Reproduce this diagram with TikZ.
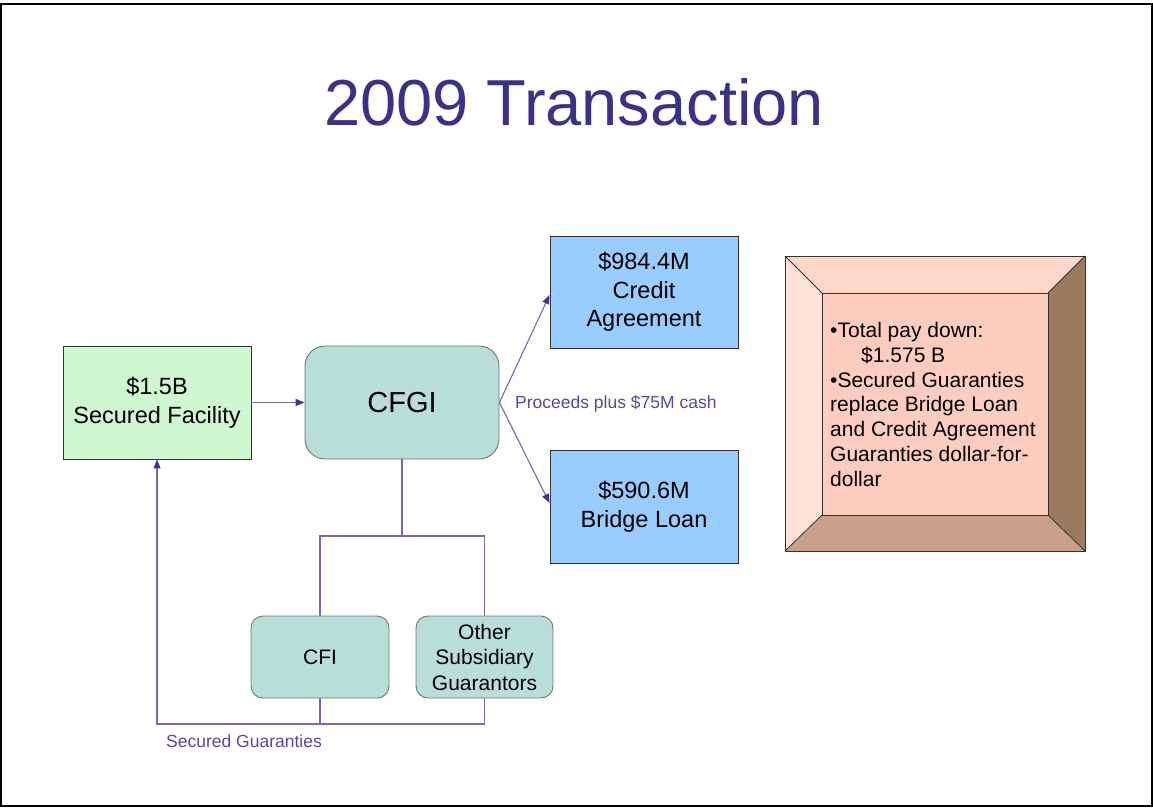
\documentclass[tikz,border=0pt]{standalone}
\usepackage{fontspec}
\setmainfont{Liberation Sans}
\usetikzlibrary{arrows.meta,calc}
\definecolor{titlecol}{RGB}{58,50,134}
\definecolor{linecol}{RGB}{118,104,178}
\definecolor{tipcol}{RGB}{64,52,140}
\definecolor{greenfill}{RGB}{208,248,208}
\definecolor{tealfill}{RGB}{184,222,216}
\definecolor{bluefill}{RGB}{153,204,255}
\definecolor{bvtop}{RGB}{255,214,202}
\definecolor{bvleft}{RGB}{255,224,216}
\definecolor{bvright}{RGB}{155,122,96}
\definecolor{bvbottom}{RGB}{201,160,140}
\definecolor{bvcenter}{RGB}{255,204,192}
\definecolor{labelcol}{RGB}{86,72,160}
\tikzset{
  sqbox/.style={draw=black!80, line width=0.9pt, rectangle, inner sep=0pt, align=center,
    font=\fontsize{23.5}{28.5}\selectfont},
  rndbox/.style={draw=black!55, line width=0.9pt, rectangle, fill=tealfill, inner sep=0pt, align=center},
  conn/.style={draw=linecol, line width=1.1pt},
  arr/.style={conn, -{Triangle[length=9pt,width=7pt,fill=tipcol,color=tipcol]}},
  lbl/.style={text=labelcol, font=\fontsize{17.5}{20}\selectfont, inner sep=0pt}
}
\begin{document}
\begin{tikzpicture}[x=1pt,y=-1pt]
\useasboundingbox (0,0) rectangle (1153,808);
\draw[line width=2pt, black] (1,4) rectangle (1152,806);
% title
\node[text=titlecol, font=\fontsize{65}{70}\selectfont, inner sep=0pt] (title) at (574,102) {2009 Transaction};
% nodes
\node[sqbox, fill=greenfill, minimum width=188pt, minimum height=113pt] (sf) at (157,402.5) {\raisebox{-3pt}{\$1.5B}\\\raisebox{-3pt}{Secured Facility}};
\node[rndbox, rounded corners=20pt, minimum width=194pt, minimum height=113pt, font=\fontsize{29}{32}\selectfont] (cfgi) at (402,402.5) {CFGI};
\node[sqbox, fill=bluefill, minimum width=188pt, minimum height=112pt] (credit) at (644,292) {\$984.4M\\Credit\\Agreement};
\node[sqbox, fill=bluefill, minimum width=188pt, minimum height=113pt] (bridge) at (644,506.5) {\$590.6M\\Bridge Loan};
\node[rndbox, rounded corners=12pt, minimum width=138pt, minimum height=82pt, font=\fontsize{21}{25.5}\selectfont] (cfi) at (320,657) {CFI};
\node[rndbox, rounded corners=12pt, minimum width=137pt, minimum height=82pt, font=\fontsize{21}{25.5}\selectfont] (other) at (484.5,657) {Other\\Subsidiary\\Guarantors};
% bevel box
\coordinate (bo1) at (785,256);
\coordinate (bo2) at (1085,256);
\coordinate (bo3) at (1085,551);
\coordinate (bo4) at (785,551);
\coordinate (bi1) at (822,293);
\coordinate (bi2) at (1048,293);
\coordinate (bi3) at (1048,515);
\coordinate (bi4) at (822,515);
\fill[bvtop] (bo1) -- (bo2) -- (bi2) -- (bi1) -- cycle;
\fill[bvright] (bo2) -- (bo3) -- (bi3) -- (bi2) -- cycle;
\fill[bvbottom] (bo3) -- (bo4) -- (bi4) -- (bi3) -- cycle;
\fill[bvleft] (bo4) -- (bo1) -- (bi1) -- (bi4) -- cycle;
\fill[bvcenter] (bi1) rectangle (bi3);
\draw[black!80, line width=0.8pt] (bo1) rectangle (bo3);
\draw[black!80, line width=0.8pt] (bi1) rectangle (bi3);
\draw[black!80, line width=0.8pt] (bo1) -- (bi1) (bo2) -- (bi2) (bo3) -- (bi3) (bo4) -- (bi4);
\node[anchor=north west, inner sep=0pt, align=left, font=\fontsize{21}{24.8}\selectfont] (bvtext) at (830,322)
  {•Total pay down:\\\hspace*{31pt}\$1.575 B\\•Secured Guaranties\\replace Bridge Loan\\and Credit Agreement\\Guaranties dollar-for-\\dollar};
% connectors
\draw[arr] (sf.east) -- (cfgi.west);
\draw[arr] (cfgi.east) -- ($(credit.west)+(0,3)$);
\draw[arr] (cfgi.east) -- ($(bridge.west)+(0,-3.5)$);
\node[lbl, anchor=west] (proceeds) at (515,404) {Proceeds plus \$75M cash};
\coordinate (j1) at (402,536);
\draw[conn] (cfgi.south) -- (j1);
\draw[conn] (cfi.north) |- (j1) -| (other.north);
\coordinate (k1) at (320,724);
\draw[conn] (other.south) |- (k1);
\draw[conn] (cfi.south) -- (k1);
\draw[arr] (k1) -| (sf.south);
\node[lbl, anchor=base west] (secg) at (166,747) {Secured Guaranties};
\end{tikzpicture}
\end{document}
